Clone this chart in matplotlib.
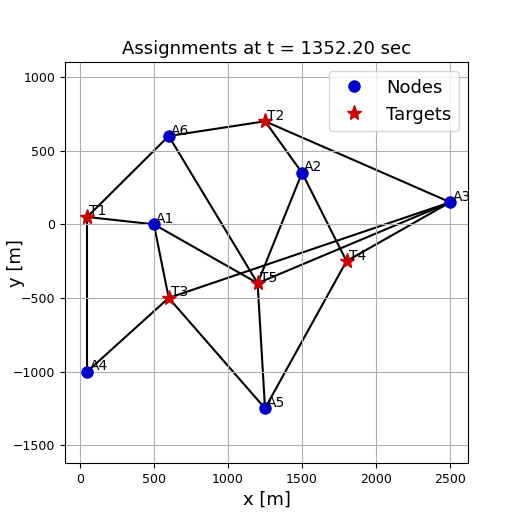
import matplotlib
matplotlib.use("Agg")
import matplotlib.pyplot as plt

node_names = ["A1", "A2", "A3", "A4", "A5", "A6"]
node_x = [500, 1500, 2500, 50, 1250, 600]
node_y = [0, 350, 150, -1000, -1250, 600]

target_names = ["T1", "T2", "T3", "T4", "T5"]
target_x = [50, 1250, 600, 1800, 1200]
target_y = [50, 700, -500, -250, -400]

edges = [("T1", "A6"), ("A6", "T2"), ("T2", "A2"), ("T2", "A3"), ("A6", "T5"),
         ("T1", "A1"), ("A1", "T5"), ("A1", "T3"), ("T1", "A4"), ("A4", "T3"),
         ("T3", "A5"), ("T3", "A3"), ("A5", "T5"), ("A2", "T5"), ("A2", "T4"),
         ("A5", "T4"), ("T5", "A3"), ("T4", "A3")]

pos = {}
for n, x, y in zip(node_names, node_x, node_y):
    pos[n] = (x, y)
for n, x, y in zip(target_names, target_x, target_y):
    pos[n] = (x, y)

fig = plt.figure(figsize=(5.2, 5.2), dpi=100)
ax = fig.add_axes([0.125, 0.11, 0.775, 0.77])

for a, b in edges:
    ax.plot([pos[a][0], pos[b][0]], [pos[a][1], pos[b][1]], color="black", lw=1.5, zorder=1)

ax.plot(node_x, node_y, "o", color="#0000cc", ms=8, ls="none", label="Nodes", zorder=2)
ax.plot(target_x, target_y, "*", color="#cc0000", ms=11, ls="none", label="Targets", zorder=2)

for n, (x, y) in pos.items():
    ax.text(x + 15, y + 10, n, fontsize=10, zorder=3)

ax.set_xlim(-100, 2620)
ax.set_ylim(-1620, 1100)
ax.set_xticks([0, 500, 1000, 1500, 2000, 2500])
ax.set_yticks([-1500, -1000, -500, 0, 500, 1000])
ax.tick_params(labelsize=9)
ax.grid(True, color="#b0b0b0", lw=0.8)
ax.set_xlabel("x [m]", fontsize=13)
ax.set_ylabel("y [m]", fontsize=13)
ax.yaxis.set_label_coords(-0.1, 0.5)
ax.set_title("Assignments at t = 1352.20 sec", fontsize=13)
ax.legend(loc="upper right", fontsize=13)

fig.savefig("out.png", dpi=100)
